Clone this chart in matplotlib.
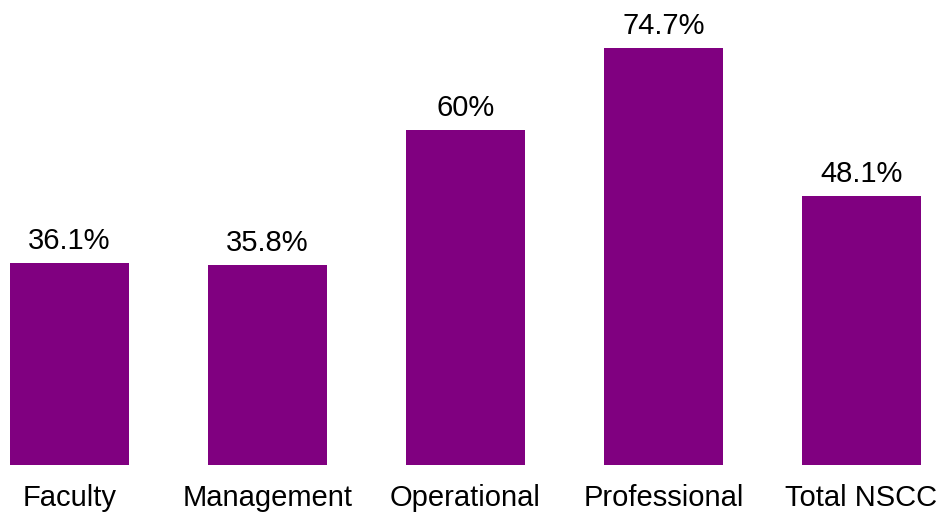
import matplotlib.pyplot as plt

categories = ["Faculty", "Management", "Operational", "Professional", "Total NSCC"]
values = [36.1, 35.8, 60, 74.7, 48.1]
value_labels = ["36.1%", "35.8%", "60%", "74.7%", "48.1%"]

plt.rcParams["font.family"] = ["Liberation Sans", "DejaVu Sans"]

fig = plt.figure(figsize=(9.48, 5.14), dpi=100)
ax = fig.add_axes([0, 49 / 514, 1, 465 / 514])

x = range(len(categories))
bars = ax.bar(x, values, width=0.6, color="#800080")

# percentage labels above each bar
for b, lab in zip(bars, value_labels):
    ax.annotate(lab, (b.get_x() + b.get_width() / 2, b.get_height()),
                xytext=(0, 6), textcoords="offset points",
                ha="center", va="bottom", fontsize=21)

ax.set_xlim(-69.5 / 198, (948 - 69.5) / 198)
ax.set_ylim(0, 465 / 5.583)
ax.set_xticks(list(x))
ax.set_xticklabels(categories, fontsize=21)
ax.tick_params(axis="x", length=0, pad=14)
ax.set_yticks([])
for s in ax.spines.values():
    s.set_visible(False)

fig.savefig("out.png", dpi=100)
